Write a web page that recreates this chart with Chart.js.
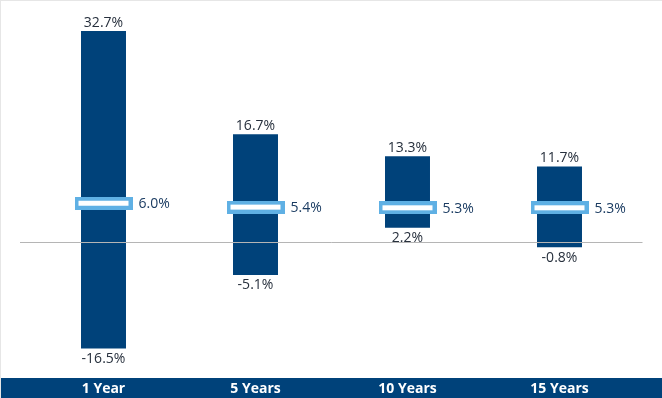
<!DOCTYPE html>
<html>
<head>
<meta charset="utf-8">
<script src="https://cdn.jsdelivr.net/npm/chart.js@4.4.0/dist/chart.umd.min.js"></script>
<style>
  html, body { margin: 0; padding: 0; background: #fff; }
  #wrap { width: 662px; height: 398px; position: relative; }
</style>
</head>
<body>
<div id="wrap"><canvas id="returns"></canvas></div>
<script>
const periods = ["1 Year", "5 Years", "10 Years", "15 Years"];
const lowReturns = [-16.5, -5.1, 2.2, -0.8];
const highReturns = [32.7, 16.7, 13.3, 11.7];
const avgReturns = [6.0, 5.4, 5.3, 5.3];

const navy = "#00427a";
const lightBlue = "#5fb0e4";

// hollow marker used as the point style for the average
const marker = document.createElement("canvas");
marker.width = 58;
marker.height = 13;
const mctx = marker.getContext("2d");
mctx.fillStyle = lightBlue;
mctx.fillRect(0, 0, 58, 13);
mctx.fillStyle = "#ffffff";
mctx.fillRect(4, 4, 50, 5);

const fmt = v => v.toFixed(1) + "%";

const rangeLabels = {
  id: "rangeLabels",
  beforeDraw(chart) {
    const { ctx, width, height, scales } = chart;
    ctx.save();
    ctx.fillStyle = navy;
    ctx.fillRect(0, scales.x.top, width, height - scales.x.top);
    ctx.restore();
  },
  afterDatasetsDraw(chart) {
    const { ctx, chartArea, scales } = chart;
    const x = scales.x, y = scales.y;
    ctx.save();
    // zero line
    const y0 = Math.round(y.getPixelForValue(0)) + 0.5;
    ctx.strokeStyle = "#b5b5b5";
    ctx.lineWidth = 1;
    ctx.beginPath();
    ctx.moveTo(chartArea.left - 7.5, y0);
    ctx.lineTo(chartArea.right + 7, y0);
    ctx.stroke();

    ctx.font = "14px 'Open Sans'";
    periods.forEach((p, i) => {
      const px = x.getPixelForValue(i);
      ctx.fillStyle = "#27303d";
      ctx.textAlign = "center";
      ctx.textBaseline = "alphabetic";
      ctx.fillText(fmt(highReturns[i]), px, y.getPixelForValue(highReturns[i]) - 4);
      ctx.fillText(fmt(lowReturns[i]), px, y.getPixelForValue(lowReturns[i]) + 14.5);
      ctx.fillStyle = "#1b3c62";
      ctx.textAlign = "left";
      ctx.textBaseline = "middle";
      ctx.fillText(fmt(avgReturns[i]), px + 35, y.getPixelForValue(avgReturns[i]) + 1);
    });

    // light frame on left and top edges
    ctx.fillStyle = "#e6e6e6";
    ctx.fillRect(0, 0, chart.width, 1);
    ctx.fillRect(0, 0, 1, chart.height);
    ctx.restore();
  }
};

new Chart(document.getElementById("returns"), {
  type: "bar",
  data: {
    labels: periods,
    datasets: [
      {
        type: "line",
        label: "Average",
        data: avgReturns,
        showLine: false,
        pointStyle: marker,
        pointRadius: 5,
        order: 0
      },
      {
        label: "Range",
        data: periods.map((p, i) => [lowReturns[i], highReturns[i]]),
        backgroundColor: navy,
        borderWidth: 0,
        barPercentage: 0.296,
        categoryPercentage: 1,
        order: 1
      }
    ]
  },
  options: {
    responsive: true,
    maintainAspectRatio: false,
    animation: false,
    events: [],
    layout: { padding: { left: 27.5, right: 26.5, top: 16.1, bottom: 0 } },
    plugins: {
      legend: { display: false },
      tooltip: { enabled: false }
    },
    scales: {
      x: {
        grid: { display: false, drawTicks: false },
        border: { display: false },
        afterFit(scale) { scale.height = 20; },
        ticks: {
          color: "#ffffff",
          padding: 3,
          font: { family: "'Open Sans'", size: 14, weight: "bold" }
        }
      },
      y: {
        display: false,
        min: -21.08,
        max: 35
      }
    }
  },
  plugins: [rangeLabels]
});
</script>
</body>
</html>
